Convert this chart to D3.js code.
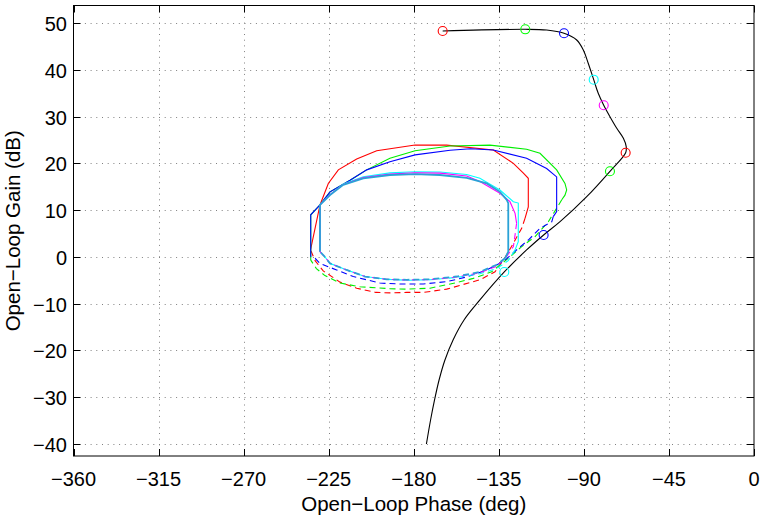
<!DOCTYPE html>
<html>
<head>
<meta charset="utf-8">
<script src="https://cdn.jsdelivr.net/npm/d3@7"></script>
<style>
  body { margin: 0; background: #fff; }
  svg { display: block; }
  text { font-family: "Liberation Sans", Arial, Helvetica, sans-serif; fill: #000; }
</style>
</head>
<body>
<svg id="chart" width="763" height="522"></svg>
<script>
// Axis limits and ticks
const phaseLimits = [-360, 0];
const gainLimits = [-42.57, 53.74];
const phaseTicks = [-360, -315, -270, -225, -180, -135, -90, -45, 0];
const gainTicks = [-40, -30, -20, -10, 0, 10, 20, 30, 40, 50];

// Open-loop Nichols response (deg, dB)
const nicholsPhase = [-164.7, -121.0, -109.7, -100.5, -93.8, -90.3, -87.7, -84.8, -82.4, -79.5,
  -76.2, -72.6, -69.1, -67.6, -67.9, -76.2, -88.5, -102.6, -111.3, -120.3, -132.1, -145.0,
  -153.4, -159.2, -163.5, -166.6, -169.0, -171.1, -173.3];
const nicholsGain = [48.29, 48.65, 48.50, 47.80, 46.37, 44.23, 41.39, 37.88, 34.97, 32.41,
  29.97, 27.49, 25.35, 23.56, 22.27, 18.30, 12.87, 7.52, 4.68, 1.48, -3.23, -9.21,
  -13.49, -17.76, -22.04, -26.32, -30.59, -34.87, -40.0];

// Frequency markers on the response
const markerPhase = [-164.7, -121.0, -100.5, -84.8, -79.5, -67.9, -76.2, -111.3, -132.1];
const markerGain = [48.29, 48.65, 47.80, 37.88, 32.41, 22.27, 18.30, 4.68, -3.23];
const markerColor = ["#ff0000", "#00ff00", "#0000ff", "#00ffff", "#ff00ff", "#ff0000", "#00ff00", "#0000ff", "#00ffff"];

// Closed-loop contours: solid upper arcs and dashed lower arcs, [phase, gain]
const redUpper = [[-234.6, 1.5], [-229.6, 11.1], [-225.2, 15.7], [-219.9, 18.6], [-210.2, 20.9], [-199.6, 22.7],
  [-179.3, 23.9], [-162.6, 23.9], [-137.9, 22.85], [-127.3, 20.0], [-122.0, 17.9], [-119.4, 16.8], [-119.4, 10.7], [-121.1, 8.3]];
const redLower = [[-121.1, 8.3], [-122.9, 6.1], [-127.3, 2.9], [-131.5, 0.0], [-137.0, -3.2], [-145.0, -4.9],
  [-162.6, -6.9], [-175.0, -7.6], [-183.7, -7.6], [-192.0, -7.7], [-200.0, -7.6], [-210.2, -6.7], [-219.0, -5.4],
  [-227.9, -3.0], [-232.2, -0.8], [-234.6, 1.5]];

const greenUpper = [[-234.5, -0.7], [-234.5, 9.0], [-229.6, 11.1], [-224.3, 13.9], [-213.7, 16.4], [-204.9, 18.6],
  [-192.6, 21.1], [-179.3, 22.7], [-160.8, 23.7], [-139.7, 23.9], [-120.3, 23.0], [-113.2, 22.15], [-104.4, 18.6],
  [-100.0, 15.7], [-99.1, 14.3], [-100.0, 13.2], [-101.7, 12.2]];
const greenLower = [[-101.7, 12.2], [-104.4, 10.4], [-108.8, 7.5], [-115.9, 4.3], [-122.9, 2.2], [-129.1, 0.0],
  [-138.8, -3.2], [-148.5, -4.6], [-157.3, -5.5], [-171.4, -6.7], [-183.7, -6.9], [-192.6, -6.8], [-208.4, -6.4],
  [-219.0, -5.6], [-227.0, -4.0], [-231.5, -2.5], [-234.5, -0.7]];

const blueUpper = [[-234.5, 0.0], [-234.5, 9.0], [-229.6, 11.1], [-224.3, 13.9], [-213.7, 16.4], [-204.9, 18.6],
  [-192.6, 20.35], [-179.3, 21.8], [-160.8, 22.8], [-150.0, 23.1], [-137.9, 22.85], [-120.3, 21.1], [-109.7, 18.9],
  [-104.4, 17.1], [-104.4, 9.7], [-106.2, 8.6]];
const blueLower = [[-106.2, 8.6], [-107.0, 7.5], [-113.2, 6.1], [-119.4, 3.6], [-124.7, 1.8], [-132.6, -1.0],
  [-141.4, -2.8], [-152.0, -4.3], [-162.6, -5.3], [-175.0, -5.8], [-187.3, -5.8], [-197.9, -5.6], [-212.0, -4.2],
  [-220.8, -2.8], [-229.6, -1.4], [-232.2, -0.3], [-234.5, 0.0]];

const cyanUpper = [[-229.6, 1.1], [-229.6, 11.1], [-224.3, 13.3], [-217.3, 15.6], [-206.7, 17.1], [-192.6, 17.95],
  [-179.3, 18.2], [-166.1, 18.15], [-152.0, 17.6], [-145.0, 16.8], [-134.4, 14.3], [-127.3, 11.8], [-124.7, 11.5],
  [-124.7, 3.25], [-126.4, 1.5]];
const cyanLower = [[-126.4, 1.5], [-130.0, -0.8], [-136.1, -2.5], [-145.0, -3.6], [-157.3, -4.4], [-171.4, -4.9],
  [-183.7, -5.0], [-194.3, -4.8], [-205.8, -4.2], [-215.5, -2.8], [-224.3, -1.4], [-227.0, 0.0], [-229.6, 1.1]];

const magentaUpper = [[-229.6, 1.1], [-229.6, 11.1], [-224.3, 13.3], [-217.3, 15.5], [-206.7, 16.95], [-192.6, 17.7],
  [-179.3, 18.0], [-166.1, 17.9], [-152.0, 17.3], [-145.0, 16.1], [-134.4, 13.6], [-129.1, 11.8], [-126.4, 9.3], [-125.6, 7.2]];
const magentaLower = [[-125.6, 7.2], [-126.4, 4.7], [-127.3, 2.2], [-131.0, 0.0], [-136.1, -2.0], [-145.0, -3.4],
  [-157.3, -4.3], [-171.4, -4.85], [-183.7, -4.95], [-194.3, -4.8], [-205.8, -4.2], [-215.5, -2.8], [-224.3, -1.4],
  [-227.0, 0.0], [-229.6, 1.1]];

const innerUpper = [[-229.6, 1.1], [-229.6, 11.1], [-224.3, 13.2], [-217.3, 15.4], [-206.7, 16.8], [-192.6, 17.5],
  [-179.3, 17.7], [-166.1, 17.5], [-152.0, 16.9], [-141.4, 15.7], [-134.4, 13.9], [-130.8, 12.2], [-130.0, 11.5],
  [-130.0, 1.1], [-131.7, -0.3]];
const innerLower = [[-131.7, -0.3], [-136.1, -1.7], [-145.0, -3.2], [-157.3, -4.2], [-171.4, -4.8], [-183.7, -4.9],
  [-194.3, -4.8], [-205.8, -4.2], [-215.5, -2.8], [-224.3, -1.4], [-227.0, 0.0], [-229.6, 1.1]];

const contours = [
  { color: "#ff0000", upper: redUpper, lower: redLower, width: 1.1 },
  { color: "#00ee00", upper: greenUpper, lower: greenLower, width: 1.1 },
  { color: "#0000ff", upper: blueUpper, lower: blueLower, width: 1.1 },
  { color: "#00ffff", upper: cyanUpper, lower: cyanLower, width: 1.1 },
  { color: "#ff00ff", upper: magentaUpper, lower: magentaLower, width: 1.1 },
  { color: "#2aa2d6", upper: innerUpper, lower: innerLower, width: 1.8 }
];

// Layout
const plotLeft = 73.5, plotRight = 754, plotTop = 5.5, plotBottom = 456;
const svg = d3.select("#chart");
const x = d3.scaleLinear().domain(phaseLimits).range([plotLeft, plotRight]);
const y = d3.scaleLinear().domain(gainLimits).range([plotBottom, plotTop]);
const fmt = d => d < 0 ? "\u2212" + Math.abs(d) : String(d);

// Grid
const grid = svg.append("g").attr("stroke", "#808080").attr("stroke-width", 1)
  .attr("stroke-dasharray", "1,4.7");
grid.selectAll("line.v").data(phaseTicks.filter(t => t > phaseLimits[0] && t < phaseLimits[1]))
  .join("line").attr("class", "v")
  .attr("x1", d => Math.round(x(d)) + 0.5).attr("x2", d => Math.round(x(d)) + 0.5)
  .attr("y1", plotTop).attr("y2", plotBottom);
grid.selectAll("line.h").data(gainTicks)
  .join("line").attr("class", "h")
  .attr("y1", d => Math.round(y(d)) + 0.5).attr("y2", d => Math.round(y(d)) + 0.5)
  .attr("x1", plotLeft).attr("x2", plotRight);

// Contours
const line = d3.line().x(d => x(d[0])).y(d => y(d[1]));
const cg = svg.append("g").attr("fill", "none");
contours.forEach(c => {
  cg.append("path").attr("d", line(c.upper)).attr("stroke", c.color).attr("stroke-width", c.width);
  cg.append("path").attr("d", line(c.lower)).attr("stroke", c.color).attr("stroke-width", c.width)
    .attr("stroke-dasharray", "6,4");
});

// Open-loop response
const resp = nicholsPhase.map((p, i) => [p, nicholsGain[i]]);
svg.append("path")
  .attr("d", d3.line().x(d => x(d[0])).y(d => y(d[1])).curve(d3.curveCatmullRom.alpha(0.5))(resp))
  .attr("fill", "none").attr("stroke", "#000").attr("stroke-width", 1.1);

svg.append("g").selectAll("circle").data(markerPhase.map((p, i) => ({ p, g: markerGain[i], c: markerColor[i] })))
  .join("circle")
  .attr("cx", d => x(d.p)).attr("cy", d => y(d.g)).attr("r", 4.5)
  .attr("fill", "none").attr("stroke", d => d.c).attr("stroke-width", 1.1);

// Frame
svg.append("rect").attr("x", plotLeft).attr("y", plotTop)
  .attr("width", plotRight - plotLeft).attr("height", plotBottom - plotTop)
  .attr("fill", "none").attr("stroke", "#000").attr("stroke-width", 1);

// Inward ticks on all four sides
const tl = 7;
const ticks = svg.append("g").attr("stroke", "#000").attr("stroke-width", 1);
phaseTicks.forEach(t => {
  const px = Math.round(x(t)) + 0.5;
  ticks.append("line").attr("x1", px).attr("x2", px).attr("y1", plotBottom).attr("y2", plotBottom - tl);
  ticks.append("line").attr("x1", px).attr("x2", px).attr("y1", plotTop).attr("y2", plotTop + tl);
});
gainTicks.forEach(t => {
  const py = Math.round(y(t)) + 0.5;
  ticks.append("line").attr("y1", py).attr("y2", py).attr("x1", plotLeft).attr("x2", plotLeft + tl);
  ticks.append("line").attr("y1", py).attr("y2", py).attr("x1", plotRight).attr("x2", plotRight - tl);
});

// Tick labels
svg.append("g").selectAll("text").data(phaseTicks).join("text")
  .attr("x", d => x(d)).attr("y", 486).attr("text-anchor", "middle")
  .attr("font-size", 20).text(fmt);
svg.append("g").selectAll("text").data(gainTicks).join("text")
  .attr("x", 67).attr("y", d => y(d) + 8).attr("text-anchor", "end")
  .attr("font-size", 20).text(fmt);

// Axis titles
svg.append("text").attr("x", (plotLeft + plotRight) / 2).attr("y", 511).attr("text-anchor", "middle")
  .attr("font-size", 20.5).text("Open\u2212Loop Phase (deg)");
svg.append("text").attr("transform", `translate(20,${(plotTop + plotBottom) / 2}) rotate(-90)`)
  .attr("text-anchor", "middle").attr("font-size", 20.5).text("Open\u2212Loop Gain (dB)");
</script>
</body>
</html>
